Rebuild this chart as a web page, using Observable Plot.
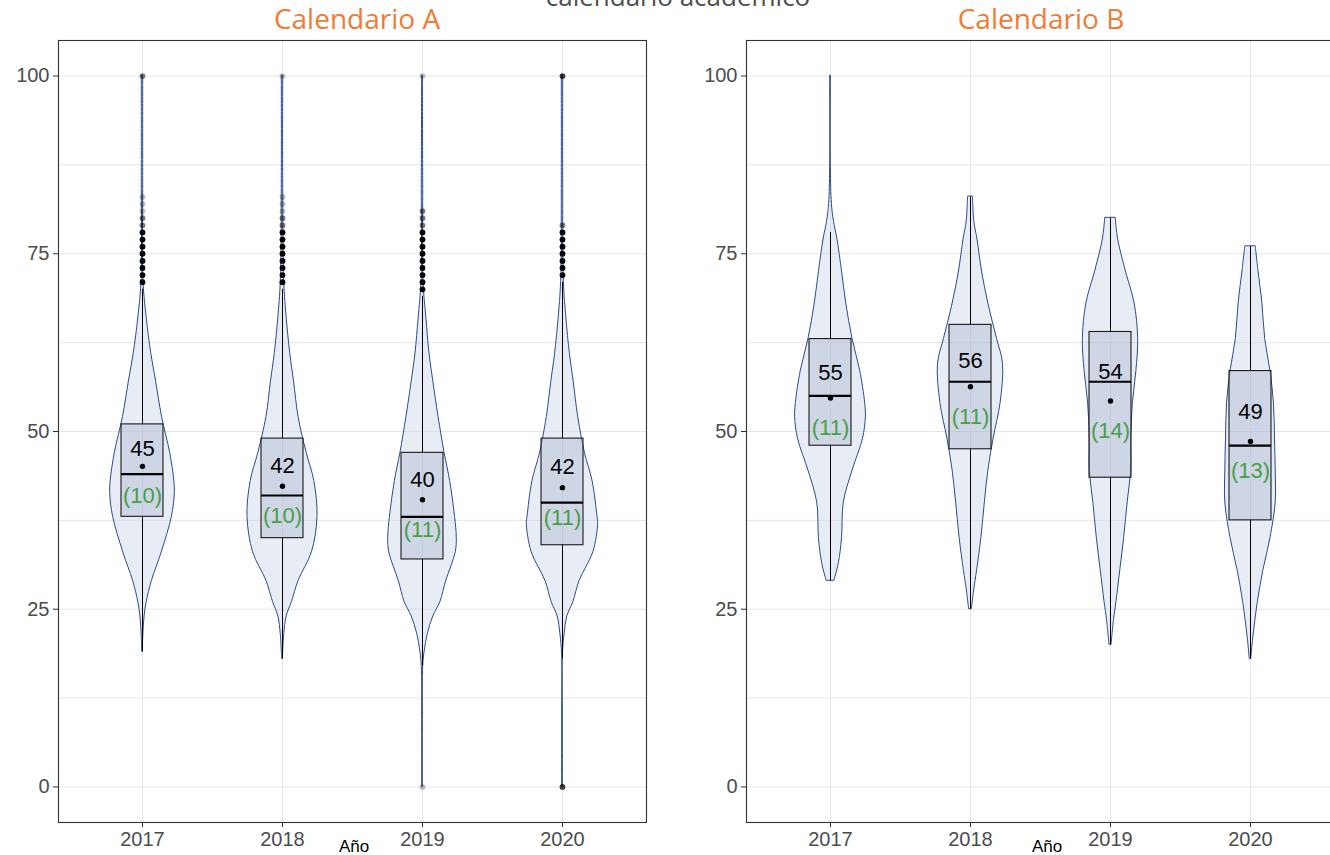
<!DOCTYPE html>
<html><head><meta charset="utf-8">
<script src="https://cdn.jsdelivr.net/npm/d3@7"></script>
<script src="https://cdn.jsdelivr.net/npm/@observablehq/plot@0.6"></script>
<style>
body{margin:0;background:#fff;overflow:hidden}
#root{position:relative;width:1330px;height:855px;overflow:hidden;font-family:"Liberation Sans",Arial,sans-serif;background:#fff}
.abs{position:absolute;white-space:nowrap;line-height:1}
.ptitle{font-family:"Open Sans",sans-serif;font-size:28px;color:#f07b35;transform:translateX(-50%)}
.xlab{font-size:17px;color:#000;transform:translateX(-50%)}
.plot{position:absolute;top:0}
</style></head><body><div id="root"></div>
<script>
// ---- data ----
const anios = ["2017", "2018", "2019", "2020"];
const calendarios = ["Calendario A", "Calendario B"];
const tituloGeneral = "calendario académico";
const ejeX = "Año";
const ticksY = [0, 25, 50, 75, 100];

// Calendario A box statistics
const q1A = [38, 35, 32, 34];
const medianaA = [44, 41, 38, 40];
const q3A = [51, 49, 47, 49];
const bigoteInfA = [19, 18, 17, 18];
const bigoteSupA = [70, 70, 69, 71];
const mediaA = [45.1, 42.3, 40.4, 42.1];
const deA = [10, 10, 11, 11];

// Calendario B box statistics
const q1B = [48, 47.5, 43.5, 37.5];
const medianaB = [55, 57, 57, 48];
const q3B = [63, 65, 64, 58.5];
const bigoteInfB = [29, 25, 20, 18];
const bigoteSupB = [78, 83, 80, 76];
const mediaB = [54.7, 56.3, 54.3, 48.6];
const deB = [11, 11, 14, 13];

// violin densities [puntaje, densidad relativa]
const violA2017 = [[100,0.02],[85,0.02],[71,0.03],[66,0.12],[61,0.25],[57,0.39],[52,0.56],[47,0.79],[43,0.91],[41,0.92],[38,0.84],[33,0.55],[29,0.27],[26,0.12],[24,0.06],[21,0.02],[19,0.01]];
const violA2018 = [[100,0.02],[85,0.02],[71,0.05],[66,0.12],[61,0.22],[57,0.33],[52,0.46],[47,0.69],[43,0.91],[38,1.0],[33,0.84],[29,0.46],[26,0.27],[24,0.12],[21.5,0.05],[18,0.01]];
const violA2019 = [[100,0.01],[85,0.02],[71,0.03],[66,0.11],[61,0.2],[57,0.31],[52,0.46],[47,0.63],[43,0.79],[38,0.93],[35,0.98],[33,0.95],[29,0.68],[26,0.51],[24,0.31],[21.5,0.15],[19,0.06],[17,0.02],[10,0.01],[0,0.01]];
const violA2020 = [[100,0.02],[85,0.02],[71,0.04],[66,0.11],[61,0.21],[57,0.32],[52,0.45],[47,0.64],[43,0.86],[38,1.0],[37,1.02],[33,0.88],[29,0.49],[26,0.31],[24,0.14],[21.5,0.06],[18.5,0.01],[10,0.01],[0,0.01]];
const violB2017 = [[100,0.01],[87,0.01],[82,0.04],[79.5,0.1],[77,0.2],[72.5,0.33],[68,0.45],[63,0.63],[58.5,0.85],[54,0.99],[52,1.01],[49,0.93],[44.5,0.63],[40,0.38],[35,0.33],[31.5,0.24],[29,0.11]];
const violB2018 = [[83,0.07],[79.5,0.11],[77,0.2],[72.5,0.33],[68,0.51],[63,0.76],[59.5,0.93],[54,0.86],[49,0.66],[44.5,0.51],[40,0.41],[35,0.31],[30.5,0.19],[27.5,0.1],[25,0.04]];
const violB2019 = [[80,0.15],[77,0.22],[72.5,0.44],[68,0.69],[63,0.79],[58.5,0.74],[54,0.64],[49,0.59],[44.5,0.59],[40,0.49],[35,0.39],[30.5,0.28],[26,0.17],[23.5,0.1],[20,0.03]];
const violB2020 = [[76,0.15],[72.5,0.23],[68,0.34],[63,0.42],[58.5,0.57],[54,0.67],[49,0.7],[44.5,0.72],[40,0.72],[35,0.57],[30.5,0.37],[26,0.21],[21,0.08],[18,0.02]];

// outliers [puntaje, cantidad]
const atipA2017 = [[71,4],[72,4],[73,4],[74,4],[75,4],[76,4],[77,4],[78,4],[79,2],[80,2],[81,1],[82,1],[83,1],[100,2]];
const atipA2018 = [[71,4],[72,4],[73,4],[74,4],[75,4],[76,4],[77,4],[78,4],[79,2],[80,2],[81,1],[82,1],[83,1],[100,1]];
const atipA2019 = [[0,1],[70,4],[71,4],[72,4],[73,4],[74,4],[75,4],[76,4],[77,4],[78,4],[79,2],[80,2],[81,2],[100,1]];
const atipA2020 = [[0,3],[72,4],[73,4],[74,4],[75,4],[76,4],[77,4],[78,4],[79,2],[100,3]];
const atipB2017 = [], atipB2018 = [], atipB2019 = [], atipB2020 = [];

// ---- drawing ----
const W = 0.25;      // max half-width of violin in category units
const BOX = 0.15;    // half-width of box
const root = document.getElementById("root");

function panel(st, violins, atips) {
  const rows = anios.map((a, i) => ({i, anio: a, q1: st.q1[i], med: st.med[i], q3: st.q3[i],
    lo: st.lo[i], hi: st.hi[i], mean: st.mean[i], sd: st.sd[i]}));
  const vdata = violins.flatMap((arr, i) => arr.map(([v, d]) => ({i, v, d})));
  const odata = atips.flatMap((arr, i) => arr.map(([v, n]) => ({i, v, n})));
  return Plot.plot({
    width: 666, height: 855,
    marginTop: 40, marginBottom: 33, marginLeft: 58, marginRight: 20,
    x: {domain: [-0.6, 3.6]},
    y: {domain: [-5, 105]},
    opacity: {domain: [0, 4], clamp: true},
    style: {fontFamily: '"Liberation Sans", Arial, sans-serif', background: "transparent", overflow: "visible"},
    marks: [
      Plot.gridY([0, 12.5, 25, 37.5, 50, 62.5, 75, 87.5, 100], {stroke: "#e6e6e6", strokeOpacity: 1}),
      Plot.gridX([0, 1, 2, 3], {stroke: "#e6e6e6", strokeOpacity: 1}),
      Plot.areaX(vdata, {y: "v", x1: d => d.i - d.d * W, x2: d => d.i + d.d * W, z: "i",
        curve: "catmull-rom", fill: "#c3cce3", fillOpacity: 0.38, stroke: "#2b4c8c", strokeWidth: 1}),
      Plot.ruleX(rows, {x: "i", y1: "lo", y2: "q1", stroke: "#000", strokeWidth: 1}),
      Plot.ruleX(rows, {x: "i", y1: "q3", y2: "hi", stroke: "#000", strokeWidth: 1}),
      Plot.rect(rows, {x1: d => d.i - BOX, x2: d => d.i + BOX, y1: "q1", y2: "q3",
        fill: "#a9b6d0", fillOpacity: 0.42, stroke: "#1a1a1a", strokeWidth: 1.1}),
      Plot.ruleY(rows, {y: "med", x1: d => d.i - BOX, x2: d => d.i + BOX, stroke: "#000", strokeWidth: 2.2}),
      Plot.dot(odata, {x: "i", y: "v", r: 2.9, fill: "#000", fillOpacity: "n", stroke: null}),
      Plot.dot(rows, {x: "i", y: "mean", r: 2.7, fill: "#000"}),
      Plot.text(rows, {x: "i", y: d => d.mean + 0.42 * (d.q3 - d.mean), text: d => String(Math.round(d.mean)),
        fontSize: 22, fill: "#000"}),
      Plot.text(rows, {x: "i", y: "mean", dy: 30, text: d => `(${d.sd})`, fontSize: 22, fill: "#46a046"}),
      Plot.frame({stroke: "#333", strokeWidth: 1.1}),
      Plot.axisY({ticks: ticksY, label: null, tickSize: 5, tickPadding: 4, fontSize: 20,
        stroke: "#333", fill: "#4d4d4d"}),
      Plot.axisX({ticks: [0, 1, 2, 3], tickFormat: i => anios[i], label: null, tickSize: 5,
        tickPadding: 4, fontSize: 20, stroke: "#333", fill: "#4d4d4d"})
    ]
  });
}

const statsA = {q1: q1A, med: medianaA, q3: q3A, lo: bigoteInfA, hi: bigoteSupA, mean: mediaA, sd: deA};
const statsB = {q1: q1B, med: medianaB, q3: q3B, lo: bigoteInfB, hi: bigoteSupB, mean: mediaB, sd: deB};

const pA = panel(statsA, [violA2017, violA2018, violA2019, violA2020], [atipA2017, atipA2018, atipA2019, atipA2020]);
const pB = panel(statsB, [violB2017, violB2018, violB2019, violB2020], [atipB2017, atipB2018, atipB2019, atipB2020]);
pA.classList.add("plot"); pA.style.left = "0px";
pB.classList.add("plot"); pB.style.left = "688px";
root.appendChild(pA); root.appendChild(pB);

function addText(txt, cls, left, top, extra) {
  const d = document.createElement("div");
  d.className = "abs " + cls;
  d.textContent = txt;
  d.style.left = left + "px"; d.style.top = top + "px";
  if (extra) Object.assign(d.style, extra);
  root.appendChild(d);
}
addText(tituloGeneral, "", 678, -17, {fontFamily: '"Open Sans",sans-serif', fontSize: "26px", color: "#4d4d4d", transform: "translateX(-50%)"});
addText(calendarios[0], "ptitle", 357, 4);
addText(calendarios[1], "ptitle", 1041, 4);
addText(ejeX, "xlab", 354, 838);
addText(ejeX, "xlab", 1047, 838);
</script></body></html>
